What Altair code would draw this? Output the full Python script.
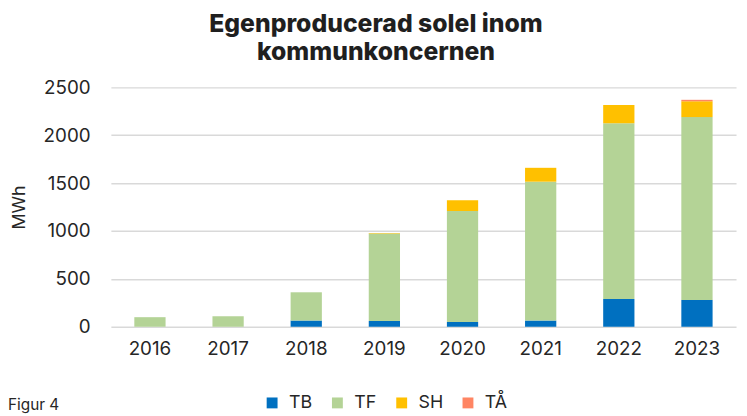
import altair as alt
import pandas as pd

years = ["2016", "2017", "2018", "2019", "2020", "2021", "2022", "2023"]
series = ["TB", "TF", "SH", "TÅ"]
tb = [0, 0, 65, 60, 50, 65, 290, 280]
tf = [100, 110, 295, 915, 1160, 1450, 1835, 1910]
sh = [0, 0, 0, 5, 110, 145, 190, 165]
ta = [0, 0, 0, 0, 0, 0, 0, 15]
colors = ["#0070C0", "#B4D396", "#FFC000", "#FF8563"]

rows = []
for i, y in enumerate(years):
    for k, (name, vals) in enumerate(zip(series, [tb, tf, sh, ta])):
        rows.append({"År": y, "Serie": name, "MWh": vals[i], "idx": k})
df = pd.DataFrame(rows)

FONT = "Inter"
TXT = "#262626"

bars = alt.Chart(df).mark_bar().encode(
    x=alt.X("År:N", sort=years,
            scale=alt.Scale(paddingInner=0.6, paddingOuter=0.3),
            axis=alt.Axis(title=None, labelAngle=0, labelFontSize=19, labelFont=FONT,
                          labelColor=TXT, labelPadding=13, ticks=False, domain=False)),
    y=alt.Y("MWh:Q", stack="zero",
            scale=alt.Scale(domain=[0, 2500], nice=False),
            axis=alt.Axis(values=[0, 500, 1000, 1500, 2000, 2500], format="d", title="MWh",
                          titleFontSize=18, titleFont=FONT, titleFontWeight="normal",
                          titleColor=TXT, titleX=-92, titleAngle=-90, titleBaseline="middle",
                          labelFontSize=19, labelFont=FONT, labelColor=TXT,
                          labelPadding=21, ticks=False, domain=False,
                          gridColor="#D9D9D9", gridWidth=1.5)),
    color=alt.Color("Serie:N", sort=series,
                    scale=alt.Scale(domain=series, range=colors),
                    legend=alt.Legend(title=None, orient="none", direction="horizontal",
                                      legendX=154, legendY=310, symbolType="square",
                                      symbolSize=121, symbolStrokeWidth=0,
                                      labelFontSize=18, labelFont=FONT, labelColor=TXT,
                                      labelOffset=8, columnPadding=16)),
    order=alt.Order("idx:Q", sort="ascending"),
)

fig = alt.Chart(pd.DataFrame({"t": ["Figur 4"]})).mark_text(
    align="left", baseline="middle", fontSize=15.5, font=FONT, color=TXT
).encode(text="t:N", x=alt.value(-104), y=alt.value(321))

chart = alt.layer(bars, fig).properties(
    width=632, height=242,
    autosize=alt.AutoSizeParams(type="none"),
    padding={"left": 104, "top": 78, "right": 3, "bottom": 90},
    title=alt.TitleParams(text=["Egenproducerad solel inom", "kommunkoncernen"],
                          fontSize=25, font=FONT, fontWeight=800, color="#1F1F1F",
                          anchor="middle", dx=-48, offset=14, lineHeight=28),
).configure_view(stroke=None)

chart.save("out.html", embed_options={"renderer": "svg", "actions": False})
